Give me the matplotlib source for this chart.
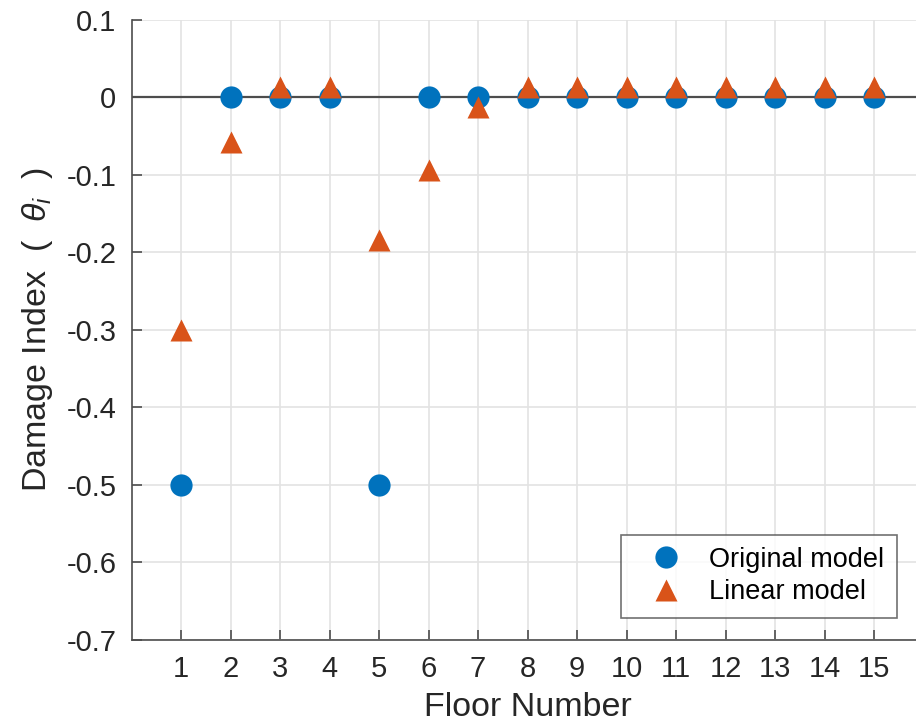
import numpy as np
import matplotlib
matplotlib.use("Agg")
import matplotlib.pyplot as plt

plt.rcParams['font.family'] = ['Liberation Sans', 'DejaVu Sans']
plt.rcParams['mathtext.fontset'] = 'custom'
plt.rcParams['mathtext.it'] = 'Liberation Sans:italic'
plt.rcParams['mathtext.rm'] = 'Liberation Sans'

# damage index per floor
floors = np.arange(1, 16)
original = [-0.5, 0, 0, 0, -0.5, 0, 0, 0, 0, 0, 0, 0, 0, 0, 0]
linear = [-0.30, -0.057, 0.013, 0.013, -0.184, -0.094, -0.012,
          0.013, 0.013, 0.013, 0.013, 0.013, 0.013, 0.013, 0.013]

blue = '#0072BD'
orange = '#D95319'
dark = '#262626'

fig = plt.figure(figsize=(9.16, 7.27), dpi=100)
ax = fig.add_axes([0.1436, 0.1197, 0.8646, 0.853])

ax.axhline(0, color='#4d4d4d', lw=1.6, zorder=2)
ax.plot(floors, original, 'o', color=blue, ms=16, mec='none',
        label='Original model', zorder=3)
ax.plot(floors, linear, '^', color=orange, ms=16.5, mec='none',
        label='Linear model', zorder=4)

ax.set_xlim(0, 16)
ax.set_ylim(-0.7, 0.1)
ax.set_xticks(floors)
ax.set_yticks(np.round(np.arange(-0.7, 0.11, 0.1), 1))
ax.set_yticklabels(['-0.7', '-0.6', '-0.5', '-0.4', '-0.3', '-0.2', '-0.1', '0', '0.1'])
ax.grid(True, color='#e3e3e3', lw=1.2)
ax.set_axisbelow(True)

for s in ['top', 'right']:
    ax.spines[s].set_visible(False)
for s in ['left', 'bottom']:
    ax.spines[s].set_color('#4d4d4d')
    ax.spines[s].set_linewidth(1.2)

ax.tick_params(direction='in', length=7, width=1.2, color='#4d4d4d',
               labelsize=21, labelcolor=dark, pad=11)

ax.set_xlabel('Floor Number', fontsize=24.5, color=dark, labelpad=6)
ax.set_ylabel(r'Damage Index  (  $\theta_i$  )', fontsize=24.5, color=dark, labelpad=8)

leg = ax.legend(loc='lower right', bbox_to_anchor=(0.966, 0.036),
                fontsize=19.5, frameon=True, fancybox=False,
                handletextpad=0.4, borderpad=0.45, labelspacing=0.25,
                handlelength=2.4, borderaxespad=0)
leg.get_frame().set_edgecolor('#4d4d4d')
leg.get_frame().set_linewidth(1.2)
for t in leg.get_texts():
    t.set_color('black')

fig.savefig('out.png', dpi=100)
